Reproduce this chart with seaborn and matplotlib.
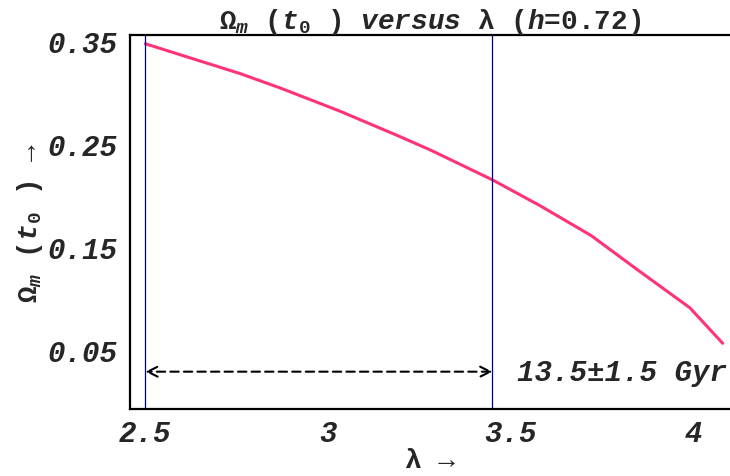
import matplotlib
matplotlib.use("Agg")
import matplotlib.pyplot as plt
import seaborn as sns
import pandas as pd

# Data
lam = [2.50, 2.76, 2.87, 3.03, 3.19, 3.28, 3.45, 3.58, 3.72, 3.85, 3.99, 4.08]
omega = [0.347, 0.318, 0.304, 0.282, 0.258, 0.244, 0.215, 0.190, 0.161, 0.127, 0.091, 0.0565]
vlines = [2.50, 3.45]
arrow_y = 0.029
age_label = "13.5±1.5 Gyr"
xticks = [2.5, 3.0, 3.5, 4.0]
xticklabels = ["2.5", "3", "3.5", "4"]
yticks = [0.05, 0.15, 0.25, 0.35]
yticklabels = ["0.05", "0.15", "0.25", "0.35"]

sns.set_style("white")
plt.rcParams['font.family'] = ['Liberation Mono', 'DejaVu Sans Mono', 'DejaVu Sans']
plt.rcParams['mathtext.fontset'] = 'custom'
plt.rcParams['mathtext.rm'] = 'Liberation Mono:bold'
plt.rcParams['mathtext.it'] = 'Liberation Mono:bold:italic'
plt.rcParams['mathtext.bf'] = 'Liberation Mono:bold'

FS = 21
fig = plt.figure(figsize=(7.30, 4.77), dpi=100)
ax = fig.add_axes([130/730, 67/477, 600/730, 374/477])

df = pd.DataFrame({"lam": lam, "omega": omega})
sns.lineplot(data=df, x="lam", y="omega", ax=ax, color="#ff3377", lw=2.2, sort=True)

for v in vlines:
    ax.axvline(v, color="#000080", lw=0.9)

ax.annotate("", xy=(vlines[0], arrow_y), xytext=(vlines[1], arrow_y),
            arrowprops=dict(arrowstyle="<->", linestyle=(0, (4, 2.5)), lw=1.5,
                            color="black", shrinkA=0, shrinkB=0, mutation_scale=18))
ax.text(3.516, arrow_y, age_label, fontsize=FS, fontweight="bold", fontstyle="italic",
        va="center", ha="left")

ax.set_xlim(2.458, 4.1)
ax.set_ylim(-0.0072, 0.3555)
ax.set_xticks(xticks)
ax.set_xticklabels(xticklabels)
ax.set_yticks(yticks)
ax.set_yticklabels(yticklabels)
for lab in ax.get_xticklabels() + ax.get_yticklabels():
    lab.set_fontsize(FS)
    lab.set_fontweight("bold")
    lab.set_fontstyle("italic")
ax.tick_params(axis="both", direction="in", length=4, width=0.8, color="#666666")
ax.tick_params(axis="x", pad=7)
ax.tick_params(axis="y", pad=9)

for s in ["left", "bottom", "top"]:
    ax.spines[s].set_linewidth(1.6)
    ax.spines[s].set_color("black")
ax.spines["right"].set_visible(False)

ax.set_xlabel(r"λ →", fontsize=FS - 1, fontweight="bold", labelpad=0)
ax.set_ylabel(r"$\Omega_m$ ($t_0$ ) →", fontsize=FS - 1, fontweight="bold", labelpad=2)
ax.set_title(r"$\Omega_m$ ($t_0$ ) $versus$ λ ($h$=$0.72$)", fontsize=FS - 1,
             fontweight="bold", pad=5)

fig.savefig("out.png", dpi=100)
